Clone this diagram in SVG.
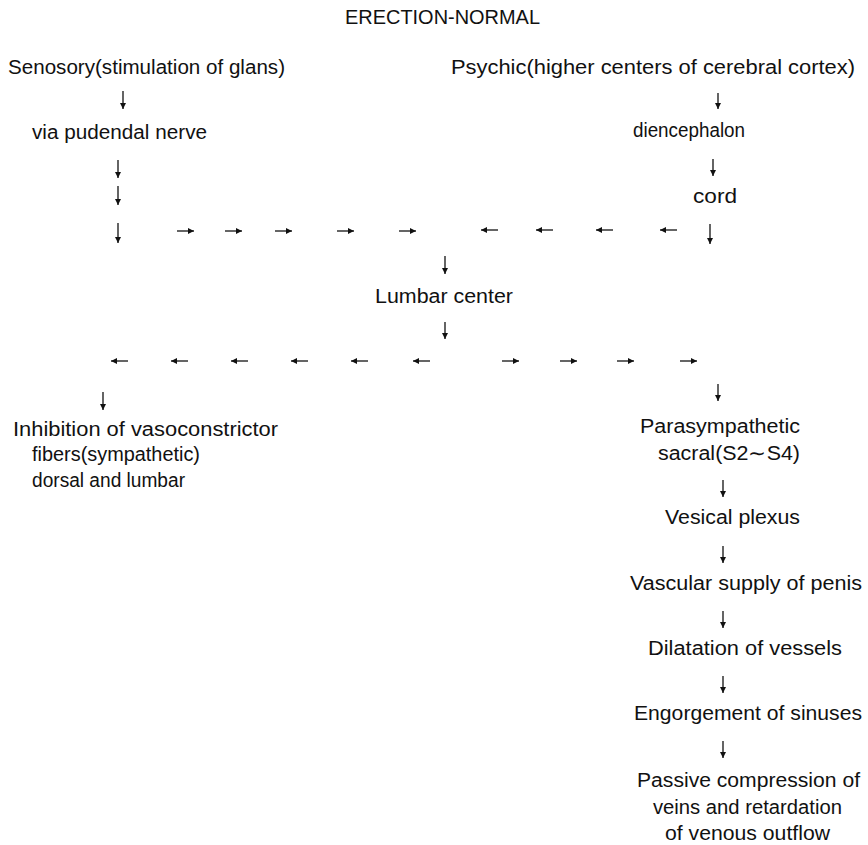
<svg xmlns="http://www.w3.org/2000/svg" width="868" height="845" viewBox="0 0 868 845">
<style>
text{font-family:"Liberation Sans",Arial,sans-serif;font-size:20px;fill:#111}
.t{font-size:21px}
.c line{stroke:#111;stroke-width:1.3;marker-end:url(#ah)}
</style>
<defs>
<marker id="ah" markerUnits="userSpaceOnUse" markerWidth="8" markerHeight="8" refX="6" refY="3" orient="auto"><path d="M0,0 L6,3 L0,6 z" fill="#111"/></marker>
</defs>
<rect width="868" height="845" fill="#fff"/>
<g id="title"><text class="t" x="345" y="24" textLength="195" lengthAdjust="spacingAndGlyphs">ERECTION-NORMAL</text></g>
<g id="sensory"><text x="8" y="74" textLength="277" lengthAdjust="spacingAndGlyphs">Senosory(stimulation of glans)</text></g>
<g id="psychic"><text x="451" y="74" textLength="404" lengthAdjust="spacingAndGlyphs">Psychic(higher centers of cerebral cortex)</text></g>
<g id="pudendal"><text x="32" y="139" textLength="175" lengthAdjust="spacingAndGlyphs">via pudendal nerve</text></g>
<g id="diencephalon"><text x="633" y="137" textLength="112" lengthAdjust="spacingAndGlyphs">diencephalon</text></g>
<g id="cord"><text x="693" y="203" textLength="44" lengthAdjust="spacingAndGlyphs">cord</text></g>
<g id="lumbar"><text x="375" y="303" textLength="138" lengthAdjust="spacingAndGlyphs">Lumbar center</text></g>
<g id="inhibition">
<text x="13" y="436" textLength="265" lengthAdjust="spacingAndGlyphs">Inhibition of vasoconstrictor</text>
<text x="32" y="461" textLength="168" lengthAdjust="spacingAndGlyphs">fibers(sympathetic)</text>
<text x="32" y="487" textLength="153" lengthAdjust="spacingAndGlyphs">dorsal and lumbar</text>
</g>
<g id="parasympathetic">
<text x="640" y="433" textLength="160" lengthAdjust="spacingAndGlyphs">Parasympathetic</text>
<text x="658" y="460" textLength="142" lengthAdjust="spacingAndGlyphs">sacral(S2∼S4)</text>
</g>
<g id="vesical"><text x="665" y="524" textLength="135" lengthAdjust="spacingAndGlyphs">Vesical plexus</text></g>
<g id="vascular"><text x="630" y="590" textLength="232" lengthAdjust="spacingAndGlyphs">Vascular supply of penis</text></g>
<g id="dilatation"><text x="648" y="655" textLength="194" lengthAdjust="spacingAndGlyphs">Dilatation of vessels</text></g>
<g id="engorgement"><text x="634" y="720" textLength="228" lengthAdjust="spacingAndGlyphs">Engorgement of sinuses</text></g>
<g id="compression">
<text x="637" y="787" textLength="223" lengthAdjust="spacingAndGlyphs">Passive compression of</text>
<text x="653" y="814" textLength="189" lengthAdjust="spacingAndGlyphs">veins and retardation</text>
<text x="665" y="840" textLength="165" lengthAdjust="spacingAndGlyphs">of venous outflow</text>
</g>
<g id="connectors" class="c">
<line x1="123" y1="91" x2="123" y2="109"/>
<line x1="718" y1="93" x2="718" y2="109"/>
<line x1="118" y1="160" x2="118" y2="178"/>
<line x1="713" y1="159" x2="713" y2="176"/>
<line x1="118" y1="186" x2="118" y2="205"/>
<line x1="118" y1="223" x2="118" y2="243"/>
<line x1="710" y1="224" x2="710" y2="244"/>
<line x1="177" y1="231" x2="194" y2="231"/>
<line x1="225" y1="231" x2="242" y2="231"/>
<line x1="275" y1="231" x2="292" y2="231"/>
<line x1="337" y1="231" x2="354" y2="231"/>
<line x1="399" y1="231" x2="416" y2="231"/>
<line x1="498" y1="230" x2="481" y2="230"/>
<line x1="553" y1="230" x2="536" y2="230"/>
<line x1="613" y1="230" x2="596" y2="230"/>
<line x1="677" y1="230" x2="660" y2="230"/>
<line x1="445" y1="256" x2="445" y2="274"/>
<line x1="445" y1="322" x2="445" y2="339"/>
<line x1="128" y1="361" x2="111" y2="361"/>
<line x1="188" y1="361" x2="171" y2="361"/>
<line x1="248" y1="361" x2="231" y2="361"/>
<line x1="308" y1="361" x2="291" y2="361"/>
<line x1="368" y1="361" x2="351" y2="361"/>
<line x1="430" y1="361" x2="413" y2="361"/>
<line x1="502" y1="361" x2="519" y2="361"/>
<line x1="560" y1="361" x2="577" y2="361"/>
<line x1="617" y1="361" x2="634" y2="361"/>
<line x1="680" y1="361" x2="697" y2="361"/>
<line x1="718" y1="384" x2="718" y2="401"/>
<line x1="103" y1="392" x2="103" y2="410"/>
<line x1="723" y1="480" x2="723" y2="497"/>
<line x1="723" y1="546" x2="723" y2="563"/>
<line x1="723" y1="611" x2="723" y2="628"/>
<line x1="723" y1="676" x2="723" y2="693"/>
<line x1="723" y1="741" x2="723" y2="758"/>
</g>
</svg>
